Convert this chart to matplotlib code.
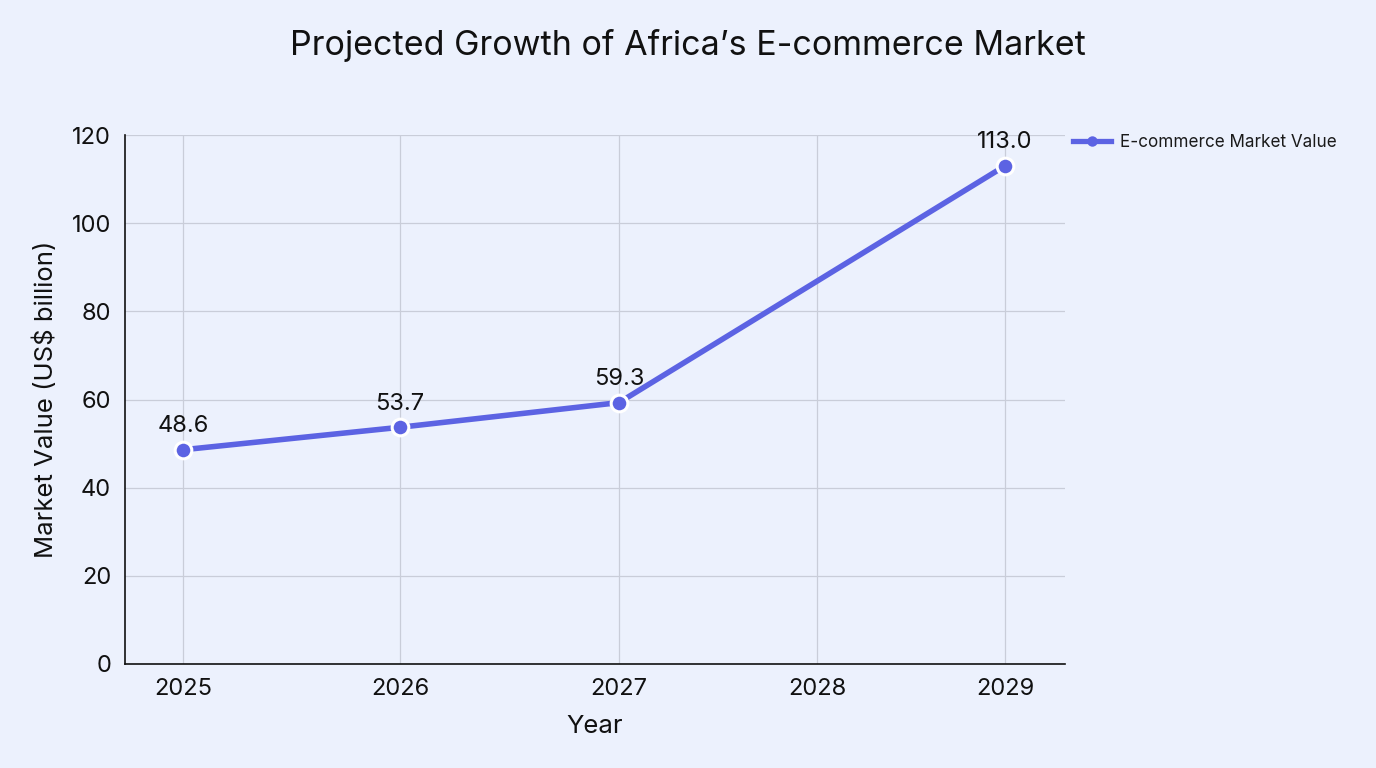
import matplotlib
matplotlib.use("Agg")
import matplotlib.pyplot as plt
from matplotlib.lines import Line2D

plt.rcParams['font.family'] = ['Inter', 'DejaVu Sans']

years = ["2025", "2026", "2027", "2028", "2029"]
# horizontal placement of each year on the axis
year_pos = [0.0, 1.056, 2.122, 3.085, 4.0]
data_years = ["2025", "2026", "2027", "2029"]
values = [48.6, 53.7, 59.3, 113.0]
series_name = "E-commerce Market Value"

bg = "#ECF1FD"
line_color = "#5C63E3"

fig = plt.figure(figsize=(13.76, 7.68), dpi=100, facecolor=bg)
ax = fig.add_axes([125/1376, 1-664/768, (1065-125)/1376, (664-135)/768])
ax.set_facecolor(bg)

xs = [year_pos[years.index(y)] for y in data_years]
ax.plot(xs, values, color=line_color, lw=4, marker='o', markersize=12,
        markerfacecolor=line_color, markeredgecolor='white', markeredgewidth=2.2,
        zorder=3, solid_capstyle='butt')

for x, v in zip(xs, values):
    ax.annotate(f"{v:.1f}", (x, v), xytext=(0, 9), textcoords='offset points',
                ha='center', va='bottom', fontsize=17, color='#111111')

ax.set_xlim(-0.282, 4.292)
ax.set_ylim(0, 120)
ax.set_xticks(year_pos)
ax.set_xticklabels(years)
ax.set_yticks(range(0, 121, 20))
ax.tick_params(length=0, labelsize=17, colors='#111111')
ax.tick_params(axis='y', pad=10)
ax.tick_params(axis='x', pad=10)
ax.grid(True, color='#C9CDD9', lw=0.9)
ax.set_axisbelow(True)
for s in ['top', 'right']:
    ax.spines[s].set_visible(False)
for s in ['left', 'bottom']:
    ax.spines[s].set_color('#111111')
    ax.spines[s].set_linewidth(1.2)

ax.set_xlabel("Year", fontsize=18.5, color='#111111', labelpad=11)
ax.set_ylabel("Market Value (US$ billion)", fontsize=18.5, color='#111111', labelpad=10)

fig.suptitle("Projected Growth of Africa\u2019s E-commerce Market", x=688/1376, y=1-46/768,
             va='center', fontsize=24.5, color='#111111')

handle = Line2D([], [], color=line_color, lw=3.8, marker='o', markersize=7.5,
                markerfacecolor=line_color, markeredgewidth=0)
leg = ax.legend([handle], [series_name], loc='upper left', bbox_to_anchor=(0.998, 1.022),
                frameon=False, fontsize=12.3, handlelength=2.2, borderaxespad=0.2,
                handletextpad=0.55)
for t in leg.get_texts():
    t.set_color('#1a1a1a')

fig.savefig("out.png", dpi=100, facecolor=bg)
